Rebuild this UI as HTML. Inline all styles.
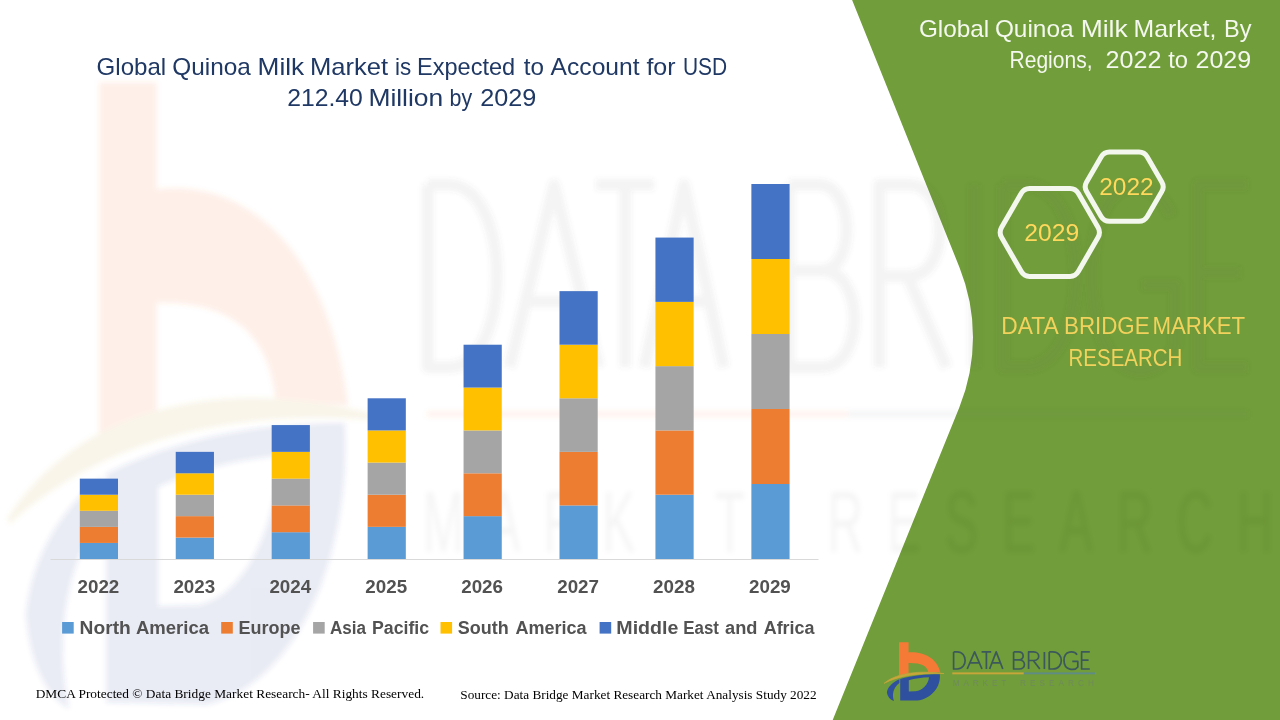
<!DOCTYPE html>
<html><head><meta charset="utf-8"><title>Global Quinoa Milk Market</title>
<style>
html,body{margin:0;padding:0;background:#fff;}
body{width:1280px;height:720px;overflow:hidden;font-family:"Liberation Sans",sans-serif;}
svg{display:block;position:absolute;left:0;top:0;}
text{white-space:pre;}
</style></head>
<body>
<svg width="1280" height="720" viewBox="0 0 1280 720">
<!-- green panel -->
<path d="M1280,0 L852.1,0 L959.5,267.4 A187,187 0 0 1 959.3,407.4 L832.7,720 L1280,720 Z" fill="#719d3a"/>
<defs><filter id="bl" x="-5%" y="-5%" width="110%" height="110%"><feGaussianBlur stdDeviation="2.5"/></filter></defs>
<g filter="url(#bl)">
<use href="#lm" transform="matrix(6.02 0 0 10.67 -5313 -6771)" opacity="0.11"/>
<path d="M427.7,184.8 L427.7,367.2 L448.6,367.2 C512.9,367.2 512.9,184.8 448.6,184.8 L427.7,184.8 M509.5,367.2 L554.1,184.8 L598.6,367.2 M526.5,301.5 L581.7,301.5 M596.2,184.8 L654.0,184.8 M625.1,184.8 L625.1,367.2 M644.4,367.2 L684.1,184.8 L723.9,367.2 M659.5,301.5 L708.8,301.5 M788.9,184.8 L788.9,367.2 L822.0,367.2 C865.0,367.2 865.0,270.5 822.0,270.5 L788.9,270.5 M822.0,270.5 C855.1,270.5 855.1,184.8 818.7,184.8 L788.9,184.8 M879.2,367.2 L879.2,184.8 L909.5,184.8 C950.0,184.8 950.0,276.0 909.5,276.0 L879.2,276.0 M907.5,276.0 L946.6,367.2 M974.3,184.8 L974.3,367.2 M1003.2,184.8 L1003.2,367.2 L1025.2,367.2 C1092.8,367.2 1092.8,184.8 1025.2,184.8 L1003.2,184.8 M1171.2,215.8 C1154.6,173.8 1092.3,162.9 1092.3,276.0 C1092.3,389.1 1158.7,385.5 1175.4,345.3 L1175.4,285.1 L1142.1,285.1 M1247.6,184.8 L1198.2,184.8 L1198.2,367.2 L1247.6,367.2 M1198.2,272.4 L1240.2,272.4" fill="none" stroke="#50555a" stroke-width="11.5" stroke-linejoin="round" opacity="0.072"/>
<g transform="matrix(6.02 0 0 10.67 -5313 -6771)" font-family="Liberation Sans" fill="#444" font-size="8.2" opacity="0.038"><text x="952.8" y="686.3" textLength="53.5" lengthAdjust="spacing">MARKET</text><text x="1020" y="686.3" textLength="74" lengthAdjust="spacing">RESEARCH</text></g>
<rect x="427" y="411" width="421" height="6" fill="#f47a36" opacity="0.09"/>
<rect x="848" y="411" width="400" height="6" fill="#5f6c86" opacity="0.07"/>
</g>
<!-- axis -->
<rect x="50.5" y="559" width="768" height="1" fill="#d9d9d9"/>
<!-- bars -->
<rect x="79.80" y="542.93" width="38.2" height="16.07" fill="#5b9bd5"/>
<rect x="79.80" y="526.86" width="38.2" height="16.07" fill="#ed7d31"/>
<rect x="79.80" y="510.79" width="38.2" height="16.07" fill="#a5a5a5"/>
<rect x="79.80" y="494.71" width="38.2" height="16.07" fill="#ffc000"/>
<rect x="79.80" y="478.64" width="38.2" height="16.07" fill="#4472c4"/>
<rect x="175.74" y="537.57" width="38.2" height="21.43" fill="#5b9bd5"/>
<rect x="175.74" y="516.14" width="38.2" height="21.43" fill="#ed7d31"/>
<rect x="175.74" y="494.71" width="38.2" height="21.43" fill="#a5a5a5"/>
<rect x="175.74" y="473.29" width="38.2" height="21.43" fill="#ffc000"/>
<rect x="175.74" y="451.86" width="38.2" height="21.43" fill="#4472c4"/>
<rect x="271.68" y="532.21" width="38.2" height="26.79" fill="#5b9bd5"/>
<rect x="271.68" y="505.43" width="38.2" height="26.79" fill="#ed7d31"/>
<rect x="271.68" y="478.64" width="38.2" height="26.79" fill="#a5a5a5"/>
<rect x="271.68" y="451.86" width="38.2" height="26.79" fill="#ffc000"/>
<rect x="271.68" y="425.07" width="38.2" height="26.79" fill="#4472c4"/>
<rect x="367.62" y="526.86" width="38.2" height="32.14" fill="#5b9bd5"/>
<rect x="367.62" y="494.71" width="38.2" height="32.14" fill="#ed7d31"/>
<rect x="367.62" y="462.57" width="38.2" height="32.14" fill="#a5a5a5"/>
<rect x="367.62" y="430.43" width="38.2" height="32.14" fill="#ffc000"/>
<rect x="367.62" y="398.29" width="38.2" height="32.14" fill="#4472c4"/>
<rect x="463.56" y="516.14" width="38.2" height="42.86" fill="#5b9bd5"/>
<rect x="463.56" y="473.29" width="38.2" height="42.86" fill="#ed7d31"/>
<rect x="463.56" y="430.43" width="38.2" height="42.86" fill="#a5a5a5"/>
<rect x="463.56" y="387.57" width="38.2" height="42.86" fill="#ffc000"/>
<rect x="463.56" y="344.71" width="38.2" height="42.86" fill="#4472c4"/>
<rect x="559.50" y="505.43" width="38.2" height="53.57" fill="#5b9bd5"/>
<rect x="559.50" y="451.86" width="38.2" height="53.57" fill="#ed7d31"/>
<rect x="559.50" y="398.29" width="38.2" height="53.57" fill="#a5a5a5"/>
<rect x="559.50" y="344.71" width="38.2" height="53.57" fill="#ffc000"/>
<rect x="559.50" y="291.14" width="38.2" height="53.57" fill="#4472c4"/>
<rect x="655.44" y="494.71" width="38.2" height="64.29" fill="#5b9bd5"/>
<rect x="655.44" y="430.43" width="38.2" height="64.29" fill="#ed7d31"/>
<rect x="655.44" y="366.14" width="38.2" height="64.29" fill="#a5a5a5"/>
<rect x="655.44" y="301.86" width="38.2" height="64.29" fill="#ffc000"/>
<rect x="655.44" y="237.57" width="38.2" height="64.29" fill="#4472c4"/>
<rect x="751.38" y="484.00" width="38.2" height="75.00" fill="#5b9bd5"/>
<rect x="751.38" y="409.00" width="38.2" height="75.00" fill="#ed7d31"/>
<rect x="751.38" y="334.00" width="38.2" height="75.00" fill="#a5a5a5"/>
<rect x="751.38" y="259.00" width="38.2" height="75.00" fill="#ffc000"/>
<rect x="751.38" y="184.00" width="38.2" height="75.00" fill="#4472c4"/>
<!-- legend markers -->
<rect x="62.1" y="622" width="11.6" height="11.6" fill="#5b9bd5"/>
<rect x="221.2" y="622" width="11.6" height="11.6" fill="#ed7d31"/>
<rect x="313.1" y="622" width="11.6" height="11.6" fill="#a5a5a5"/>
<rect x="440.5" y="622" width="11.6" height="11.6" fill="#ffc000"/>
<rect x="599.6" y="622" width="11.6" height="11.6" fill="#4472c4"/>
<!-- hexagons -->
<path d="M1001.5,237.2 Q998.8,232.4 1001.5,227.6 L1021.3,193.2 Q1024.0,188.4 1029.5,188.4 L1070.1,188.4 Q1075.6,188.4 1078.3,193.2 L1098.1,227.6 Q1100.8,232.4 1098.1,237.2 L1078.3,271.6 Q1075.6,276.4 1070.1,276.4 L1029.5,276.4 Q1024.0,276.4 1021.3,271.6 Z" fill="none" stroke="#f3f7ee" stroke-width="5" stroke-linejoin="round"/>
<path d="M1086.6,191.5 Q1083.8,186.7 1086.6,181.9 L1101.1,156.9 Q1103.9,152.1 1109.4,152.1 L1139.0,152.1 Q1144.5,152.1 1147.3,156.9 L1161.8,181.9 Q1164.6,186.7 1161.8,191.5 L1147.3,216.5 Q1144.5,221.3 1139.0,221.3 L1109.4,221.3 Q1103.9,221.3 1101.1,216.5 Z" fill="none" stroke="#f3f7ee" stroke-width="5" stroke-linejoin="round"/>
<g id="lm">
<path d="M899.0,642.3 L908.6,642.3 L908.6,652.3 C923,651.3 937,657.5 940.4,672.6 L928.3,672.0 C927.2,666 921,662.8 908.6,663.0 L908.6,673.2 L899.0,675.2 Z" fill="#f47a36"/>
<path d="M884.0,683.4 C894,674.5 915,669.6 944,673.6 C918,672.6 898,676.2 884.0,683.4 Z" fill="#c9a63a" stroke="#c9a63a" stroke-width="0.6"/>
<path fill-rule="evenodd" d="M900.2,679.0 C912,675.6 926,674.2 939.8,674.2 C941,686 932.5,698.5 917,700.6 L900.2,700.4 Z M908.8,680.2 L908.8,691.4 L915.5,691.3 C923,690.4 928.3,684.5 929.0,677.3 C922,677.6 915,678.6 908.8,680.2 Z" fill="#2f4f9f"/>
<path d="M899.4,679.3 C892,682.5 887.6,687.5 886.9,692.2 C887.6,697 890.4,699.8 894.0,701.0 C891.6,694.5 893.4,687.5 899.4,683.0 Z" fill="#2f4f9f"/>
</g>
<path d="M953.6,651.9 L953.6,669.0 L957.1,669.0 C967.8,669.0 967.8,651.9 957.1,651.9 L953.6,651.9 M967.2,669.0 L974.6,651.9 L982.0,669.0 M970.0,662.8 L979.2,662.8 M981.6,651.9 L991.2,651.9 M986.4,651.9 L986.4,669.0 M989.6,669.0 L996.2,651.9 L1002.8,669.0 M992.1,662.8 L1000.3,662.8 M1013.6,651.9 L1013.6,669.0 L1019.1,669.0 C1026.2,669.0 1026.2,659.9 1019.1,659.9 L1013.6,659.9 M1019.1,659.9 C1024.6,659.9 1024.6,651.9 1018.5,651.9 L1013.6,651.9 M1028.6,669.0 L1028.6,651.9 L1033.6,651.9 C1040.4,651.9 1040.4,660.5 1033.6,660.5 L1028.6,660.5 M1033.3,660.5 L1039.8,669.0 M1044.4,651.9 L1044.4,669.0 M1049.2,651.9 L1049.2,669.0 L1052.9,669.0 C1064.1,669.0 1064.1,651.9 1052.9,651.9 L1049.2,651.9 M1077.1,654.8 C1074.3,650.9 1064.0,649.8 1064.0,660.5 C1064.0,671.1 1075.0,670.7 1077.8,666.9 L1077.8,661.3 L1072.3,661.3 M1089.8,651.9 L1081.6,651.9 L1081.6,669.0 L1089.8,669.0 M1081.6,660.1 L1088.6,660.1" fill="none" stroke="#3c585c" stroke-width="1.7" stroke-linejoin="round"/>
<rect x="952.3" y="672.4" width="71.5" height="1.9" fill="#c9a63a"/>
<rect x="1023.8" y="672.4" width="71.2" height="1.9" fill="#5f8c86"/>
<g id="ls" font-family="Liberation Sans" fill="#6f8a5e" font-size="8.2">
<text x="952.8" y="686.3" textLength="53.5" lengthAdjust="spacing">MARKET</text>
<text x="1020" y="686.3" textLength="74" lengthAdjust="spacing">RESEARCH</text>
</g>
<!-- text -->
<text x="96.6" y="74.5" font-family="Liberation Sans" font-size="24" font-weight="normal" fill="#1f3864" textLength="69.6" lengthAdjust="spacingAndGlyphs">Global</text>
<text x="172.3" y="74.5" font-family="Liberation Sans" font-size="24" font-weight="normal" fill="#1f3864" textLength="78.5" lengthAdjust="spacingAndGlyphs">Quinoa</text>
<text x="257.6" y="74.5" font-family="Liberation Sans" font-size="24" font-weight="normal" fill="#1f3864" textLength="46.6" lengthAdjust="spacingAndGlyphs">Milk</text>
<text x="310.0" y="74.5" font-family="Liberation Sans" font-size="24" font-weight="normal" fill="#1f3864" textLength="78.2" lengthAdjust="spacingAndGlyphs">Market</text>
<text x="395.0" y="74.5" font-family="Liberation Sans" font-size="24" font-weight="normal" fill="#1f3864" textLength="16.2" lengthAdjust="spacingAndGlyphs">is</text>
<text x="417.0" y="74.5" font-family="Liberation Sans" font-size="24" font-weight="normal" fill="#1f3864" textLength="98.2" lengthAdjust="spacingAndGlyphs">Expected</text>
<text x="523.8" y="74.5" font-family="Liberation Sans" font-size="24" font-weight="normal" fill="#1f3864" textLength="20.2" lengthAdjust="spacingAndGlyphs">to</text>
<text x="550.6" y="74.5" font-family="Liberation Sans" font-size="24" font-weight="normal" fill="#1f3864" textLength="89.0" lengthAdjust="spacingAndGlyphs">Account</text>
<text x="646.4" y="74.5" font-family="Liberation Sans" font-size="24" font-weight="normal" fill="#1f3864" textLength="29.2" lengthAdjust="spacingAndGlyphs">for</text>
<text x="683.0" y="74.5" font-family="Liberation Sans" font-size="24" font-weight="normal" fill="#1f3864" textLength="44.2" lengthAdjust="spacingAndGlyphs">USD</text>
<text x="287.2" y="106.4" font-family="Liberation Sans" font-size="24" font-weight="normal" fill="#1f3864" textLength="75.6" lengthAdjust="spacingAndGlyphs">212.40</text>
<text x="368.4" y="106.4" font-family="Liberation Sans" font-size="24" font-weight="normal" fill="#1f3864" textLength="74.8" lengthAdjust="spacingAndGlyphs">Million</text>
<text x="449.6" y="106.4" font-family="Liberation Sans" font-size="24" font-weight="normal" fill="#1f3864" textLength="22.6" lengthAdjust="spacingAndGlyphs">by</text>
<text x="480.2" y="106.4" font-family="Liberation Sans" font-size="24" font-weight="normal" fill="#1f3864" textLength="56.1" lengthAdjust="spacingAndGlyphs">2029</text>
<text x="918.9" y="37.1" font-family="Liberation Sans" font-size="24" font-weight="normal" fill="#f4f8ee" textLength="70.3" lengthAdjust="spacingAndGlyphs">Global</text>
<text x="994.9" y="37.1" font-family="Liberation Sans" font-size="24" font-weight="normal" fill="#f4f8ee" textLength="78.7" lengthAdjust="spacingAndGlyphs">Quinoa</text>
<text x="1080.7" y="37.1" font-family="Liberation Sans" font-size="24" font-weight="normal" fill="#f4f8ee" textLength="47.0" lengthAdjust="spacingAndGlyphs">Milk</text>
<text x="1133.6" y="37.1" font-family="Liberation Sans" font-size="24" font-weight="normal" fill="#f4f8ee" textLength="82.7" lengthAdjust="spacingAndGlyphs">Market,</text>
<text x="1224.1" y="37.1" font-family="Liberation Sans" font-size="24" font-weight="normal" fill="#f4f8ee" textLength="27.5" lengthAdjust="spacingAndGlyphs">By</text>
<text x="1009.5" y="68.3" font-family="Liberation Sans" font-size="24" font-weight="normal" fill="#f4f8ee" textLength="83.0" lengthAdjust="spacingAndGlyphs">Regions,</text>
<text x="1105.6" y="68.3" font-family="Liberation Sans" font-size="24" font-weight="normal" fill="#f4f8ee" textLength="55.9" lengthAdjust="spacingAndGlyphs">2022</text>
<text x="1168.2" y="68.3" font-family="Liberation Sans" font-size="24" font-weight="normal" fill="#f4f8ee" textLength="19.8" lengthAdjust="spacingAndGlyphs">to</text>
<text x="1195.5" y="68.3" font-family="Liberation Sans" font-size="24" font-weight="normal" fill="#f4f8ee" textLength="55.7" lengthAdjust="spacingAndGlyphs">2029</text>
<text x="1024.3" y="240.6" font-family="Liberation Sans" font-size="23.5" font-weight="normal" fill="#ffd85c" textLength="54.9" lengthAdjust="spacingAndGlyphs">2029</text>
<text x="1099.2" y="194.6" font-family="Liberation Sans" font-size="23.5" font-weight="normal" fill="#ffd85c" textLength="54.5" lengthAdjust="spacingAndGlyphs">2022</text>
<text x="1001.2" y="334.0" font-family="Liberation Sans" font-size="24" font-weight="normal" fill="#f2d25c" textLength="57.4" lengthAdjust="spacingAndGlyphs">DATA</text>
<text x="1064.0" y="334.0" font-family="Liberation Sans" font-size="24" font-weight="normal" fill="#f2d25c" textLength="85.6" lengthAdjust="spacingAndGlyphs">BRIDGE</text>
<text x="1152.4" y="334.0" font-family="Liberation Sans" font-size="24" font-weight="normal" fill="#f2d25c" textLength="92.8" lengthAdjust="spacingAndGlyphs">MARKET</text>
<text x="1068.5" y="365.7" font-family="Liberation Sans" font-size="24" font-weight="normal" fill="#f2d25c" textLength="113.9" lengthAdjust="spacingAndGlyphs">RESEARCH</text>
<text x="77.5" y="593.4" font-family="Liberation Sans" font-size="18.4" font-weight="bold" fill="#525252" textLength="41.8" lengthAdjust="spacingAndGlyphs">2022</text>
<text x="173.4" y="593.4" font-family="Liberation Sans" font-size="18.4" font-weight="bold" fill="#525252" textLength="41.8" lengthAdjust="spacingAndGlyphs">2023</text>
<text x="269.4" y="593.4" font-family="Liberation Sans" font-size="18.4" font-weight="bold" fill="#525252" textLength="41.8" lengthAdjust="spacingAndGlyphs">2024</text>
<text x="365.3" y="593.4" font-family="Liberation Sans" font-size="18.4" font-weight="bold" fill="#525252" textLength="41.8" lengthAdjust="spacingAndGlyphs">2025</text>
<text x="461.2" y="593.4" font-family="Liberation Sans" font-size="18.4" font-weight="bold" fill="#525252" textLength="41.8" lengthAdjust="spacingAndGlyphs">2026</text>
<text x="557.2" y="593.4" font-family="Liberation Sans" font-size="18.4" font-weight="bold" fill="#525252" textLength="41.8" lengthAdjust="spacingAndGlyphs">2027</text>
<text x="653.1" y="593.4" font-family="Liberation Sans" font-size="18.4" font-weight="bold" fill="#525252" textLength="41.8" lengthAdjust="spacingAndGlyphs">2028</text>
<text x="749.0" y="593.4" font-family="Liberation Sans" font-size="18.4" font-weight="bold" fill="#525252" textLength="41.8" lengthAdjust="spacingAndGlyphs">2029</text>
<text x="79.6" y="633.7" font-family="Liberation Sans" font-size="17.6" font-weight="bold" fill="#525252" textLength="51.2" lengthAdjust="spacingAndGlyphs">North</text>
<text x="135.9" y="633.7" font-family="Liberation Sans" font-size="17.6" font-weight="bold" fill="#525252" textLength="73.1" lengthAdjust="spacingAndGlyphs">America</text>
<text x="238.4" y="633.7" font-family="Liberation Sans" font-size="17.6" font-weight="bold" fill="#525252" textLength="62.0" lengthAdjust="spacingAndGlyphs">Europe</text>
<text x="330.0" y="633.7" font-family="Liberation Sans" font-size="17.6" font-weight="bold" fill="#525252" textLength="36.1" lengthAdjust="spacingAndGlyphs">Asia</text>
<text x="372.0" y="633.7" font-family="Liberation Sans" font-size="17.6" font-weight="bold" fill="#525252" textLength="57.1" lengthAdjust="spacingAndGlyphs">Pacific</text>
<text x="457.8" y="633.7" font-family="Liberation Sans" font-size="17.6" font-weight="bold" fill="#525252" textLength="50.9" lengthAdjust="spacingAndGlyphs">South</text>
<text x="515.4" y="633.7" font-family="Liberation Sans" font-size="17.6" font-weight="bold" fill="#525252" textLength="71.2" lengthAdjust="spacingAndGlyphs">America</text>
<text x="616.3" y="633.7" font-family="Liberation Sans" font-size="17.6" font-weight="bold" fill="#525252" textLength="62.1" lengthAdjust="spacingAndGlyphs">Middle</text>
<text x="683.3" y="633.7" font-family="Liberation Sans" font-size="17.6" font-weight="bold" fill="#525252" textLength="35.7" lengthAdjust="spacingAndGlyphs">East</text>
<text x="725.0" y="633.7" font-family="Liberation Sans" font-size="17.6" font-weight="bold" fill="#525252" textLength="32.4" lengthAdjust="spacingAndGlyphs">and</text>
<text x="763.7" y="633.7" font-family="Liberation Sans" font-size="17.6" font-weight="bold" fill="#525252" textLength="50.8" lengthAdjust="spacingAndGlyphs">Africa</text>
<text x="35.7" y="698.2" font-family="Liberation Serif" font-size="13.3" font-weight="normal" fill="#000" textLength="388.5" lengthAdjust="spacingAndGlyphs">DMCA Protected © Data Bridge Market Research- All Rights Reserved.</text>
<text x="460.3" y="698.9" font-family="Liberation Serif" font-size="13.3" font-weight="normal" fill="#000" textLength="356.3" lengthAdjust="spacingAndGlyphs">Source: Data Bridge Market Research Market Analysis Study 2022</text>
</svg>
</body></html>
